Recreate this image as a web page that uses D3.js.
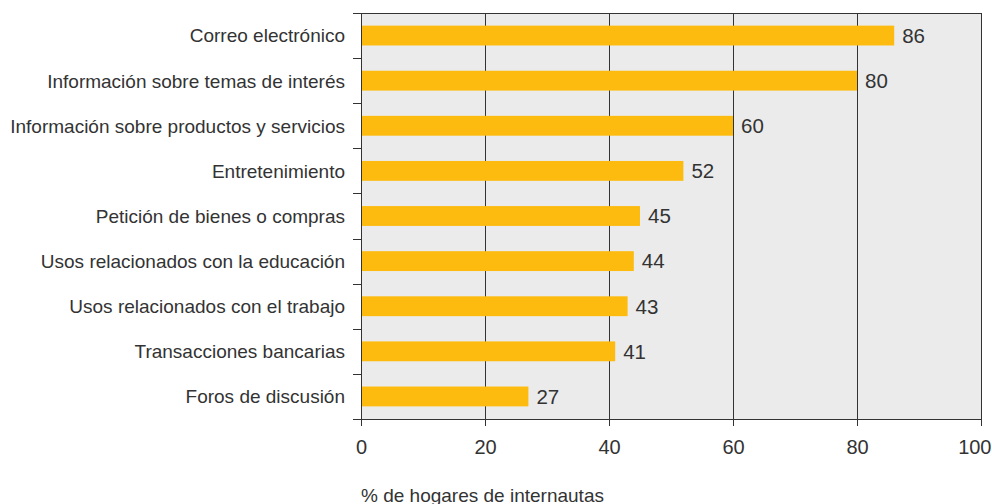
<!DOCTYPE html>
<html><head><meta charset="utf-8">
<script src="https://cdn.jsdelivr.net/npm/d3@7"></script>
<style>body{margin:0;background:#fff}svg{display:block}text{font-family:"Liberation Sans",Arial,sans-serif;fill:#333}</style>
</head><body><svg id="c" width="992" height="504"></svg>
<script>
const categories = ["Correo electrónico","Información sobre temas de interés","Información sobre productos y servicios","Entretenimiento","Petición de bienes o compras","Usos relacionados con la educación","Usos relacionados con el trabajo","Transacciones bancarias","Foros de discusión"];
const values = [86,80,60,52,45,44,43,41,27];
const xTicks = [0,20,40,60,80,100];
const axisTitle = "% de hogares de internautas";

const svg = d3.select("#c");
const m = {l:361, r:981, t:13, b:419};
const x = d3.scaleLinear().domain([0,100]).range([m.l, m.r]);
const y = d3.scaleBand().domain(categories).range([m.t, m.b]).paddingInner(0.56).paddingOuter(0.28);
const step = y.step();

svg.append("rect").attr("x",m.l).attr("y",m.t).attr("width",m.r-m.l).attr("height",m.b-m.t).attr("fill","#ebebeb");

// gridlines
svg.append("g").selectAll("line").data(xTicks.slice(1)).join("line")
  .attr("x1",d=>Math.round(x(d))+0.5).attr("x2",d=>Math.round(x(d))+0.5)
  .attr("y1",m.t).attr("y2",m.b).attr("stroke","#333").attr("stroke-width",1);

// bars
svg.append("g").selectAll("rect").data(values).join("rect")
  .attr("x",x(0)).attr("y",(d,i)=>y(categories[i]))
  .attr("width",d=>x(d)-x(0)).attr("height",y.bandwidth()).attr("fill","#fdbb10");

// value labels
svg.append("g").selectAll("text").data(values).join("text")
  .attr("x",d=>x(d)+8).attr("y",(d,i)=>y(categories[i])+y.bandwidth()/2)
  .attr("dy","0.36em").attr("font-size",20.5).text(d=>d);

// borders
svg.append("line").attr("x1",m.l-8).attr("x2",m.r).attr("y1",m.t+0.5).attr("y2",m.t+0.5).attr("stroke","#333");
svg.append("line").attr("x1",m.l+0.5).attr("x2",m.l+0.5).attr("y1",m.t).attr("y2",m.b).attr("stroke","#333");

// y axis boundary ticks
const bounds = d3.range(categories.length+1).map(i=>m.t+i*step);
svg.append("g").selectAll("line").data(bounds).join("line")
  .attr("x1",m.l-8).attr("x2",m.l).attr("y1",d=>Math.round(d)+0.5).attr("y2",d=>Math.round(d)+0.5).attr("stroke","#333");

// category labels
svg.append("g").selectAll("text").data(categories).join("text")
  .attr("x",m.l-16).attr("y",d=>y(d)+y.bandwidth()/2).attr("dy","0.36em")
  .attr("text-anchor","end").attr("font-size",19).text(d=>d);

// x axis
const xa = svg.append("g").attr("transform",`translate(0,${m.b})`)
  .call(d3.axisBottom(x).tickValues(xTicks).tickSize(7).tickPadding(14).tickSizeOuter(0));
xa.select(".domain").attr("d",`M${m.l-8},0.5H${m.r}`).attr("stroke","#333");
xa.selectAll(".tick line").attr("stroke","#333");
xa.selectAll(".tick text").attr("font-size",20).attr("fill","#333").attr("font-family","Liberation Sans, Arial, sans-serif")
  .filter(d=>d===100).attr("text-anchor","end").attr("dx",10);
// right border
svg.append("line").attr("x1",m.r+0.5).attr("x2",m.r+0.5).attr("y1",m.t).attr("y2",m.b).attr("stroke","#333");

svg.append("text").attr("x",m.l).attr("y",502).attr("font-size",19).text(axisTitle);
</script></body></html>
